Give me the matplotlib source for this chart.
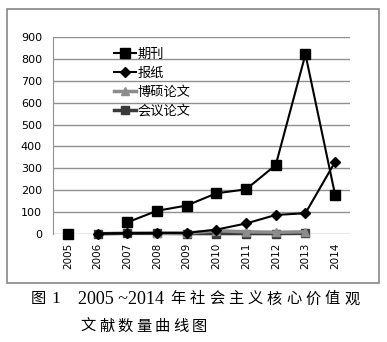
import numpy as np
import matplotlib
matplotlib.use("Agg")
import matplotlib.pyplot as plt
from matplotlib.patches import Rectangle

plt.rcParams["font.family"] = ["Noto Sans CJK SC", "DejaVu Sans"]

years = ["2005", "2006", "2007", "2008", "2009", "2010", "2011", "2012", "2013", "2014"]
journals = [0, np.nan, 53, 106, 130, 186, 204, 315, 821, 178]
newspapers = [np.nan, 2, 4, 5, 5, 20, 48, 87, 95, 330]
theses = [np.nan, np.nan, np.nan, 3, 4, 15, 10, 8, 10, np.nan]
conferences = [np.nan, 1, 3, 3, 2, 2, 2, 2, 3, np.nan]

W, H = 387, 342
fig = plt.figure(figsize=(W / 100, H / 100), dpi=100)

# outer frame around the chart
fig.add_artist(Rectangle((7 / W, 1 - 283 / H), 372 / W, 274 / H,
                         transform=fig.transFigure, fill=False,
                         edgecolor="#888888", lw=1.2))

ax = fig.add_axes([53 / W, 1 - 234 / H, 297 / W, 197 / H])
x = np.arange(len(years))

ax.plot(x, conferences, color="#3a3a3a", lw=2.5, marker="s", ms=6,
        label="会议论文", clip_on=False, zorder=3)
ax.plot(x, theses, color="#8c8c8c", lw=2.5, marker="^", ms=6,
        label="博硕论文", clip_on=False, zorder=4)
ax.plot(x, newspapers, color="black", lw=1.5, marker="D", ms=5,
        label="报纸", clip_on=False, zorder=5)
ax.plot(x, journals, color="black", lw=1.5, marker="s", ms=6.5,
        label="期刊", clip_on=False, zorder=6)

ax.set_xlim(-0.5, len(years) - 0.5)
ax.set_ylim(0, 900)
ax.set_yticks(range(0, 901, 100))
ax.set_xticks(x)
ax.set_xticklabels(years, rotation=90, fontsize=7.5, family="DejaVu Sans")
ax.tick_params(axis="y", labelsize=8, length=0, pad=8)
ax.tick_params(axis="x", length=0, pad=6)
for lab in ax.get_yticklabels():
    lab.set_family("DejaVu Sans")
ax.grid(axis="y", color="#909090", lw=1)
ax.set_axisbelow(True)
for s in ["top", "right", "bottom"]:
    ax.spines[s].set_visible(False)
ax.spines["left"].set_color("#909090")

handles, labels = ax.get_legend_handles_labels()
order = [3, 2, 1, 0]
ax.legend([handles[i] for i in order], [labels[i] for i in order],
          loc="upper left", bbox_to_anchor=(102 / W, 1 - 36 / H),
          bbox_transform=fig.transFigure, frameon=False, fontsize=9.5,
          handlelength=1.7, handletextpad=0.1, labelspacing=0.45)


def spaced(text, x0, y, pitch, **kw):
    # lay out characters one by one with wider spacing
    for i, ch in enumerate(text):
        fig.text((x0 + i * pitch) / W, 1 - y / H, ch, ha="center",
                 va="center", **kw)


cap = dict(fontsize=11, fontweight="medium")
spaced("图", 38, 299, 18, **cap)
fig.text(56 / W, 1 - 299 / H, "1", fontsize=12.5, va="center", ha="center",
         family="Liberation Serif")
fig.text(78 / W, 1 - 299 / H, "2005 ~2014", fontsize=13, va="center",
         ha="left", family="Liberation Serif")
spaced("年社会主义核心价值观", 178, 299, 19.3, **cap)
spaced("文献数量曲线图", 88, 326, 18.5, **cap)

fig.savefig("out.png", dpi=100)
